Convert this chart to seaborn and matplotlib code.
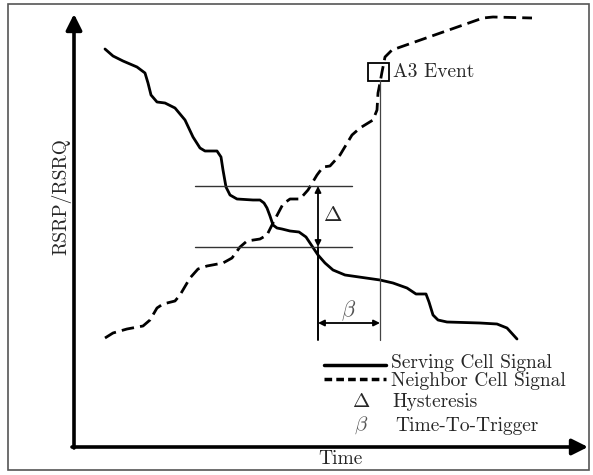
import matplotlib
matplotlib.use("Agg")
import matplotlib.pyplot as plt
from matplotlib.patches import Rectangle
import seaborn as sns
import pandas as pd

# ---- data (time, signal level in screen rows) ----
serving_t = [105, 113, 123, 137, 145, 148, 151, 157, 165, 175, 185, 193, 200, 205, 217, 221, 223, 226, 230, 237,
             253, 260, 264, 267, 270, 273, 277, 282, 290, 299, 306, 312, 318, 325, 333, 345, 359, 380, 393, 407,
             416, 426, 429, 433, 438, 447, 480, 497, 507, 517]
serving_y = [49, 56, 61, 67, 73, 83, 95, 102, 103, 108, 120, 137, 148, 151, 151, 157, 170, 187, 195, 199,
             200, 200, 203, 208, 216, 225, 228, 229, 231, 232, 237, 246, 255, 263, 270, 275, 277, 280, 283, 288,
             294, 294, 302, 315, 320, 322, 323, 324, 328, 339]
neighbor_t = [105, 113, 127, 143, 150, 157, 163, 175, 180, 190, 198, 207, 223, 232, 240, 247, 260, 267, 273, 283,
              290, 300, 308, 317, 323, 330, 340, 352, 360, 373, 377, 378, 380, 382, 385, 392, 483, 493, 532]
neighbor_y = [338, 333, 329, 326, 320, 308, 304, 301, 295, 278, 269, 266, 263, 258, 247, 241, 239, 235, 223, 204,
              199, 199, 190, 175, 167, 166, 155, 135, 128, 120, 110, 93, 83, 72, 57, 50, 18, 17, 18]

legend_labels = ["Serving Cell Signal", "Neighbor Cell Signal", "Hysteresis", "Time-To-Trigger"]
x_label = "Time"
y_label = "RSRP/RSRQ"
event_label = "A3 Event"

H = 475
sns.set_theme(style="white")
plt.rcParams["mathtext.fontset"] = "cm"

fig = plt.figure(figsize=(5.93, 4.75), dpi=100)
ax = fig.add_axes([0, 0, 1, 1])
ax.set_xlim(0, 593)
ax.set_ylim(0, H)
ax.axis("off")

df_s = pd.DataFrame({"t": serving_t, "s": [H - v for v in serving_y]})
df_n = pd.DataFrame({"t": neighbor_t, "s": [H - v for v in neighbor_y]})
sns.lineplot(data=df_s, x="t", y="s", sort=False, estimator=None, ax=ax, color="black", lw=2.0,
             solid_joinstyle="round", solid_capstyle="round")
sns.lineplot(data=df_n, x="t", y="s", sort=False, estimator=None, ax=ax, color="black", lw=2.0,
             linestyle=(0, (4.5, 2.2)), dash_joinstyle="round")

# frame
ax.add_patch(Rectangle((8, H - 470), 581, 466, fill=False, ec="#555555", lw=1.2, clip_on=False))

# axes arrows
ax.annotate("", xy=(74, H - 14), xytext=(74, H - 448),
            arrowprops=dict(arrowstyle="-|>", lw=2.6, color="black", mutation_scale=24, shrinkA=0, shrinkB=0))
ax.annotate("", xy=(588, H - 447), xytext=(72, H - 447),
            arrowprops=dict(arrowstyle="-|>", lw=2.6, color="black", mutation_scale=24, shrinkA=0, shrinkB=0))

# hysteresis lines
ax.plot([195, 352], [H - 186, H - 186], color="#333333", lw=1.0)
ax.plot([195, 352], [H - 247, H - 247], color="#333333", lw=1.0)
ax.annotate("", xy=(318, H - 186), xytext=(318, H - 247),
            arrowprops=dict(arrowstyle="<|-|>", lw=1.3, color="black", mutation_scale=9, shrinkA=0, shrinkB=0))
ax.plot([318, 318], [H - 247, H - 340], color="black", lw=1.4)
ax.text(333, H - 215, r"$\Delta$", fontsize=16, ha="center", va="center")

# TTT
ax.plot([380, 380], [H - 80, H - 340], color="#444444", lw=0.9)
ax.annotate("", xy=(318, H - 323), xytext=(380, H - 323),
            arrowprops=dict(arrowstyle="<|-|>", lw=1.3, color="black", mutation_scale=9, shrinkA=0, shrinkB=0))
ax.text(349, H - 311, r"$\beta$", fontsize=16, ha="center", va="center", color="#555555")

# A3 box
ax.add_patch(Rectangle((368, H - 81), 21, 18, fill=False, ec="black", lw=1.3))
ax.text(393, H - 72, event_label, fontsize=14, family="cmr10", ha="left", va="center")

# legend
ax.plot([324, 386], [H - 365, H - 365], color="black", lw=2.5)
ax.plot([324, 386], [H - 379, H - 379], color="black", lw=2.5, linestyle=(0, (2.2, 1.2)))
ax.text(391, H - 363, legend_labels[0], fontsize=14, family="cmr10", ha="left", va="center")
ax.text(391, H - 381, legend_labels[1], fontsize=14, family="cmr10", ha="left", va="center")
ax.text(361, H - 401, r"$\Delta$", fontsize=15, ha="center", va="center")
ax.text(392, H - 402, legend_labels[2], fontsize=14, family="cmr10", ha="left", va="center")
ax.text(361, H - 425, r"$\beta$", fontsize=15, ha="center", va="center", color="#555555")
ax.text(395, H - 426, legend_labels[3], fontsize=14, family="cmr10", ha="left", va="center")

# axis labels
ax.text(340, H - 459, x_label, fontsize=14, family="cmr10", ha="center", va="center")
ax.text(61, H - 197, y_label, fontsize=14, family="cmr10", ha="center", va="center", rotation=90)

fig.savefig("out.png", dpi=100)
